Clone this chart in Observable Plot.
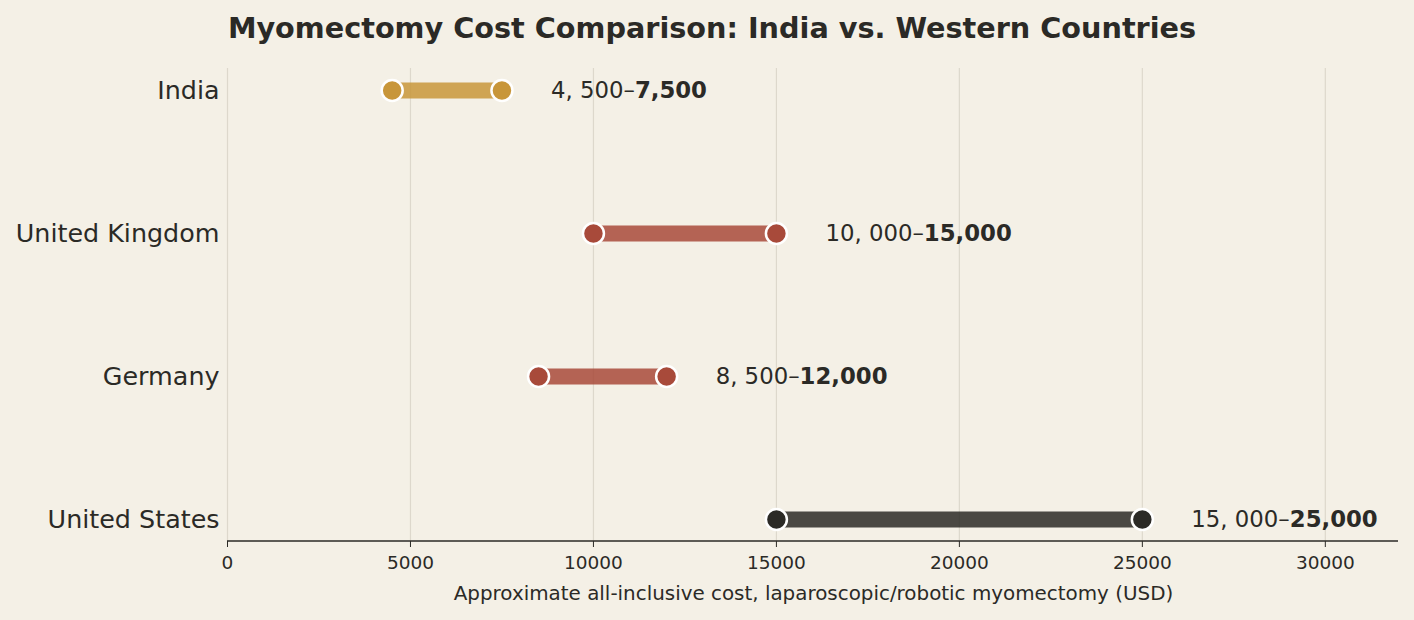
<!DOCTYPE html>
<html><head><meta charset="utf-8">
<script src="https://cdn.jsdelivr.net/npm/d3@7"></script>
<script src="https://cdn.jsdelivr.net/npm/@observablehq/plot@0.6"></script>
<style>
html,body{margin:0;padding:0;background:#f4f0e6;}
#title{height:55px;line-height:56px;text-align:center;font-family:"DejaVu Sans",sans-serif;font-weight:bold;font-size:28.7px;color:#2b2a26;width:1414px;padding-left:10px;box-sizing:border-box;}
#chart svg{display:block;}
</style></head>
<body>
<div id="title">Myomectomy Cost Comparison: India vs. Western Countries</div>
<div id="chart"></div>
<script>
const countries = ["India", "United Kingdom", "Germany", "United States"];
const lowCost = [4500, 10000, 8500, 15000];
const highCost = [7500, 15000, 12000, 25000];
const dotColors = ["#c8963a", "#a84a3a", "#a84a3a", "#2b2a26"];
const xTicks = [0, 5000, 10000, 15000, 20000, 25000, 30000];

const data = countries.map((c, i) => ({country: c, lo: lowCost[i], hi: highCost[i], color: dotColors[i]}));
const ends = data.flatMap(d => [{country: d.country, v: d.lo, color: d.color}, {country: d.country, v: d.hi, color: d.color}]);
const fmt = d3.format(",");

const plot = Plot.plot({
  width: 1414,
  height: 565,
  marginLeft: 227,
  marginRight: 16,
  marginTop: 13,
  marginBottom: 79,
  style: {background: "#f4f0e6", fontFamily: "DejaVu Sans, sans-serif", color: "#2b2a26"},
  x: {domain: [0, 32000], ticks: xTicks, tickFormat: d => String(d), label: null},
  y: {domain: countries, type: "point", padding: 0.146, label: null},
  color: {type: "identity"},
  marks: [
    Plot.gridX(xTicks, {stroke: "#ddd8cc", strokeOpacity: 1, strokeWidth: 1.2}),
    Plot.link(data, {x1: "lo", x2: "hi", y1: "country", y2: "country", stroke: "color", strokeOpacity: 0.85, strokeWidth: 16}),
    Plot.dot(ends, {x: "v", y: "country", fill: "color", r: 10.5, stroke: "white", strokeWidth: 2.5}),
    Plot.text(data, {x: "hi", y: "country", text: d => fmt(d.lo) + "|" + fmt(d.hi), dx: 49, textAnchor: "start", fontSize: 22.8, fill: "#2b2a26", className: "rangelabel"}),
    Plot.axisX({ticks: xTicks, tickFormat: d => String(d), tickSize: 6, fontSize: 18.5, tickPadding: 8, stroke: "#2b2a26", label: null}),
    Plot.axisY({tickSize: 0, tickPadding: 8, fontSize: 25.4, label: null})
  ]
});
document.getElementById("chart").appendChild(plot);

// baseline + x axis label
const svg = d3.select(plot);
svg.append("line").attr("x1", 227).attr("x2", 1398).attr("y1", 486).attr("y2", 486).attr("stroke", "#2b2a26").attr("stroke-width", 1.6);
svg.append("text").attr("x", 813.5).attr("y", 545).attr("text-anchor", "middle")
  .attr("font-size", 19.9).attr("fill", "#2b2a26").attr("font-family", "DejaVu Sans, sans-serif")
  .text("Approximate all-inclusive cost, laparoscopic/robotic myomectomy (USD)");

// split labels into regular + bold parts
svg.selectAll("g.rangelabel text").each(function() {
  const t = d3.select(this);
  const [a, b] = t.text().split("|");
  t.text(null);
  t.append("tspan").text(a.replace(",", ", ") + "–");
  t.append("tspan").attr("font-weight", "bold").text(b);
});
</script>
</body></html>
